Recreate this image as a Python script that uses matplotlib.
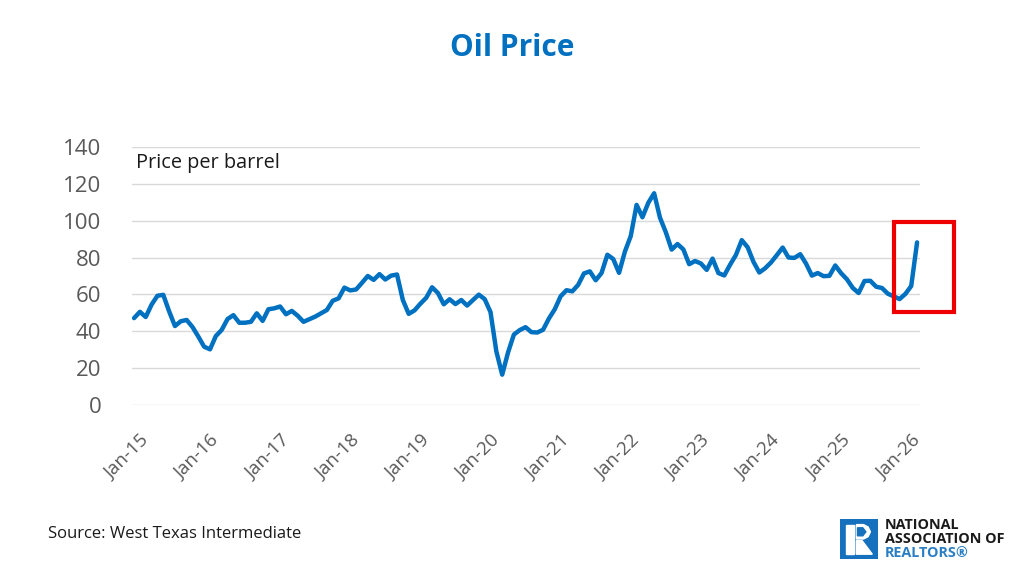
' Oil price chart (WTI monthly, Jan 2015 - Mar 2026). '

import matplotlib
matplotlib.use('Agg')
import matplotlib.pyplot as plt
import matplotlib.transforms as mtransforms
from matplotlib.patches import Rectangle, Polygon

plt.rcParams['font.family'] = ['Open Sans', 'DejaVu Sans']

# monthly WTI price per barrel, Jan-15 .. Mar-26
prices = [
    47.2, 50.6, 47.8, 54.5, 59.3, 59.8, 50.9, 42.9, 45.5, 46.2, 42.4, 37.2,   # 2015
    31.7, 30.3, 37.5, 40.8, 46.7, 48.8, 44.7, 44.7, 45.2, 49.8, 45.7, 52.0,   # 2016
    52.5, 53.5, 49.3, 51.1, 48.5, 45.2, 46.6, 48.0, 49.8, 51.6, 56.6, 57.9,   # 2017
    63.7, 62.2, 62.7, 66.3, 70.0, 67.9, 71.0, 68.1, 70.2, 70.8, 57.0, 49.5,   # 2018
    51.4, 55.0, 58.2, 63.9, 60.8, 54.7, 57.4, 54.8, 57.0, 54.0, 57.0, 59.9,   # 2019
    57.5, 50.5, 29.2, 16.6, 28.6, 38.3, 40.7, 42.3, 39.6, 39.4, 40.9, 47.0,   # 2020
    52.0, 59.0, 62.3, 61.7, 65.2, 71.4, 72.5, 67.7, 71.6, 81.5, 79.2, 71.7,   # 2021
    83.2, 91.6, 108.5, 101.8, 109.6, 114.8, 101.6, 93.7, 84.3, 87.3, 84.4, 76.4,  # 2022
    78.1, 76.8, 73.3, 79.4, 71.6, 70.3, 76.1, 81.4, 89.4, 85.6, 77.7, 71.9,   # 2023
    74.2, 77.3, 81.3, 85.4, 80.0, 79.8, 81.8, 76.7, 70.2, 71.6, 69.9, 70.1,   # 2024
    75.7, 71.5, 68.2, 63.5, 60.8, 67.3, 67.4, 64.2, 63.5, 60.4, 59.0, 57.5,   # 2025
    60.3, 64.6, 88.2,                                                       # 2026
]
tick_labels = ['Jan-15', 'Jan-16', 'Jan-17', 'Jan-18', 'Jan-19', 'Jan-20',
               'Jan-21', 'Jan-22', 'Jan-23', 'Jan-24', 'Jan-25', 'Jan-26']
y_ticks = [0, 20, 40, 60, 80, 100, 120, 140]

BLUE = '#0070c0'
GREY = '#595959'


def px(x, y):
    ' pixel position (from top-left) -> figure fraction '
    return x / 1024, 1 - y / 576


def draw_logo(fig):
    ' NAR logo: blue square with a blocky white R plus the name '
    lax = fig.add_axes([840 / 1024, 17 / 576, 38 / 1024, 40 / 576])
    lax.set_xlim(0, 1)
    lax.set_ylim(0, 1)
    lax.axis('off')
    lax.add_patch(Rectangle((0, 0), 1, 1, color='#1570bd'))
    lax.add_patch(Rectangle((0.17, 0.12), 0.2, 0.74, color='white'))
    lax.add_patch(Polygon([(0.43, 0.86), (0.62, 0.86), (0.74, 0.80), (0.80, 0.68),
                           (0.74, 0.56), (0.62, 0.50), (0.43, 0.50)], color='white'))
    lax.add_patch(Polygon([(0.46, 0.78), (0.60, 0.78), (0.68, 0.68),
                           (0.60, 0.58), (0.46, 0.58)], color='#1570bd'))
    lax.add_patch(Polygon([(0.43, 0.46), (0.58, 0.46), (0.85, 0.12), (0.43, 0.12)],
                          color='white'))
    for y, txt, col in [(525, 'NATIONAL', '#1a1a1a'),
                        (539, 'ASSOCIATION OF', '#1a1a1a'),
                        (553, 'REALTORS®', '#2a7fc4')]:
        fig.text(*px(885, y), txt, color=col, fontsize=10.4,
                 fontweight='bold', ha='left', va='center')


def main():
    ' duh '
    fig = plt.figure(figsize=(10.24, 5.76), dpi=100)
    ax = fig.add_axes([132 / 1024, 1 - 405.3 / 576, 788 / 1024, 258.6 / 576])

    months = list(range(len(prices)))
    ax.plot(months, prices, color=BLUE, linewidth=3.2, solid_joinstyle='round',
            solid_capstyle='round', zorder=3)

    ax.set_xlim(-0.35, 134.5)
    ax.set_ylim(0, 140)
    ax.set_yticks(y_ticks)
    ax.set_xticks(range(0, 12 * len(tick_labels), 12))
    ax.set_xticklabels(tick_labels)
    ax.grid(axis='y', color='#d9d9d9', linewidth=1)
    ax.set_axisbelow(True)
    for side in ax.spines.values():
        side.set_visible(False)
    ax.tick_params(axis='both', length=0, colors=GREY)
    ax.tick_params(axis='y', labelsize=16, pad=22)
    ax.tick_params(axis='x', labelsize=13.5, pad=19)
    shift = mtransforms.ScaledTranslation(6 / 100, 0, fig.dpi_scale_trans)
    for lab in ax.get_xticklabels():
        lab.set_rotation(45)
        lab.set_ha('right')
        lab.set_va('top')
        lab.set_rotation_mode('anchor')
        lab.set_transform(lab.get_transform() + shift)

    fig.text(*px(136, 163), 'Price per barrel', fontsize=14.3, color='#1a1a1a',
             va='center', ha='left')

    # red highlight box around the latest months
    ax.add_patch(Rectangle((130.1, 50.3), 10.3, 48.8, fill=False, edgecolor='#ee0000',
                           linewidth=3, clip_on=False, zorder=4))

    fig.text(*px(512, 48), 'Oil Price', color=BLUE, fontsize=21.5,
             fontweight='bold', ha='center', va='center')
    fig.text(*px(48, 534), 'Source: West Texas Intermediate', fontsize=12,
             color='#1a1a1a', ha='left', va='center')
    draw_logo(fig)

    fig.savefig('out.png', dpi=100)


if __name__ == '__main__':
    main()
